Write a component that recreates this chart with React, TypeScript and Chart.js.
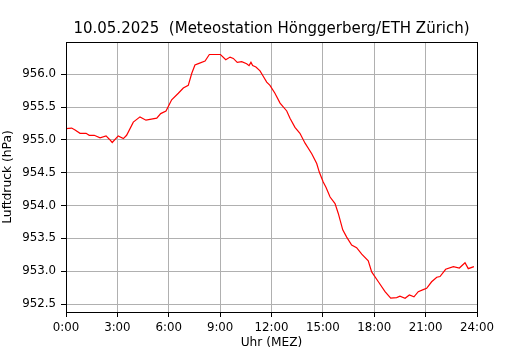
import React, { useEffect, useRef } from "react";
import { Chart, registerables } from "chart.js";

Chart.register(...registerables);

const TITLE = "10.05.2025  (Meteostation Hönggerberg/ETH Zürich)";
const X_LABEL = "Uhr (MEZ)";
const Y_LABEL = "Luftdruck (hPa)";

// time of day in hours
const hours = [
  0.0, 0.33, 0.53, 0.82, 1.17, 1.36, 1.65, 1.99, 2.34, 2.53, 2.7, 3.05, 3.35, 3.54,
  3.93, 4.32, 4.67, 5.3, 5.53, 5.84, 6.17, 6.56, 6.85, 7.14, 7.34, 7.53, 7.73, 8.12,
  8.37, 9.02, 9.33, 9.58, 9.77, 10.0, 10.26, 10.55, 10.69, 10.8, 10.9, 11.09, 11.33,
  11.49, 11.72, 11.91, 12.2, 12.5, 12.89, 13.08, 13.37, 13.66, 13.96, 14.35, 14.64,
  14.79, 15.02, 15.18, 15.42, 15.71, 15.9, 16.16, 16.39, 16.68, 16.97, 17.27, 17.65,
  17.85, 18.24, 18.63, 18.96, 19.31, 19.5, 19.8, 20.05, 20.32, 20.57, 20.86, 21.06,
  21.35, 21.65, 21.84, 22.17, 22.62, 22.97, 23.3, 23.49, 23.82,
];

// air pressure in hPa
const pressure = [
  955.17, 955.18, 955.15, 955.1, 955.1, 955.07, 955.07, 955.03, 955.06, 955.01, 954.96,
  955.06, 955.02, 955.07, 955.27, 955.35, 955.3, 955.33, 955.4, 955.44, 955.61, 955.71,
  955.79, 955.83, 956.01, 956.14, 956.16, 956.2, 956.3, 956.3, 956.22, 956.26, 956.24,
  956.18, 956.19, 956.16, 956.13, 956.18, 956.13, 956.11, 956.05, 955.98, 955.88,
  955.83, 955.71, 955.56, 955.44, 955.33, 955.19, 955.1, 954.95, 954.79, 954.64,
  954.51, 954.36, 954.28, 954.13, 954.03, 953.88, 953.63, 953.52, 953.4, 953.36,
  953.26, 953.16, 952.99, 952.84, 952.69, 952.59, 952.6, 952.62, 952.59, 952.64,
  952.61, 952.69, 952.72, 952.74, 952.84, 952.91, 952.92, 953.03, 953.07, 953.05,
  953.13, 953.04, 953.07,
];

const xTicks = [0, 3, 6, 9, 12, 15, 18, 21, 24];
const yTicks = [952.5, 953.0, 953.5, 954.0, 954.5, 955.0, 955.5, 956.0];

const FONT = "'DejaVu Sans', sans-serif";

const framePlugin = {
  id: "frame",
  afterDraw(chart: any) {
    const { ctx, chartArea } = chart;
    ctx.save();
    ctx.strokeStyle = "#000";
    ctx.lineWidth = 1;
    ctx.strokeRect(
      Math.round(chartArea.left) + 0.5,
      Math.round(chartArea.top) + 0.5,
      Math.round(chartArea.right - chartArea.left),
      Math.round(chartArea.bottom - chartArea.top)
    );
    ctx.fillStyle = "#000";
    ctx.font = `15px ${FONT}`;
    ctx.textAlign = "center";
    ctx.textBaseline = "alphabetic";
    ctx.fillText(TITLE, (chartArea.left + chartArea.right) / 2, 33);
    ctx.restore();
  },
};

export default function App() {
  const ref = useRef<HTMLCanvasElement>(null);

  useEffect(() => {
    if (!ref.current) return;
    const chart = new Chart(ref.current, {
      type: "line",
      data: {
        datasets: [
          {
            data: hours.map((h, i) => ({ x: h, y: pressure[i] })),
            borderColor: "#ff0000",
            borderWidth: 1.2,
            pointRadius: 0,
            tension: 0,
            fill: false,
          },
        ],
      },
      options: {
        animation: false,
        responsive: false,
        maintainAspectRatio: false,
        layout: { padding: { top: 42, right: 53, left: 0, bottom: 0 } },
        plugins: {
          legend: { display: false },
          tooltip: { enabled: false },
          title: { display: false },
        },
        scales: {
          x: {
            type: "linear",
            min: 0,
            max: 24,
            afterBuildTicks: (scale: any) => {
              scale.ticks = xTicks.map((v) => ({ value: v }));
            },
            afterFit: (scale: any) => {
              scale.height = 38;
            },
            ticks: {
              autoSkip: false,
              maxRotation: 0,
              padding: 4,
              color: "#000",
              font: { family: FONT, size: 11.8 },
              callback: (v: any) => `${v}:00`,
            },
            grid: {
              color: "#b0b0b0",
              lineWidth: 1,
              drawTicks: true,
              tickLength: 5,
              tickColor: "#000",
            },
            border: { display: false },
            title: {
              display: true,
              text: X_LABEL,
              color: "#000",
              font: { family: FONT, size: 12.2 },
              padding: { top: 0, bottom: 0 },
            },
          },
          y: {
            type: "linear",
            min: 952.38,
            max: 956.49,
            afterBuildTicks: (scale: any) => {
              scale.ticks = yTicks.map((v) => ({ value: v }));
            },
            afterFit: (scale: any) => {
              scale.width = 66;
            },
            ticks: {
              autoSkip: false,
              padding: 5,
              color: "#000",
              font: { family: FONT, size: 11.8 },
              callback: (v: any) => Number(v).toFixed(1),
            },
            grid: {
              color: "#b0b0b0",
              lineWidth: 1,
              drawTicks: true,
              tickLength: 5,
              tickColor: "#000",
            },
            border: { display: false },
            title: {
              display: true,
              text: Y_LABEL,
              color: "#000",
              font: { family: FONT, size: 12.3 },
              padding: { top: 0, bottom: 0 },
            },
          },
        },
      },
      plugins: [framePlugin],
    });
    return () => chart.destroy();
  }, []);

  return (
    <div style={{ position: "absolute", left: 0, top: 0, width: 530, height: 350, background: "#fff" }}>
      <canvas ref={ref} width={530} height={350} style={{ width: 530, height: 350 }} />
    </div>
  );
}
